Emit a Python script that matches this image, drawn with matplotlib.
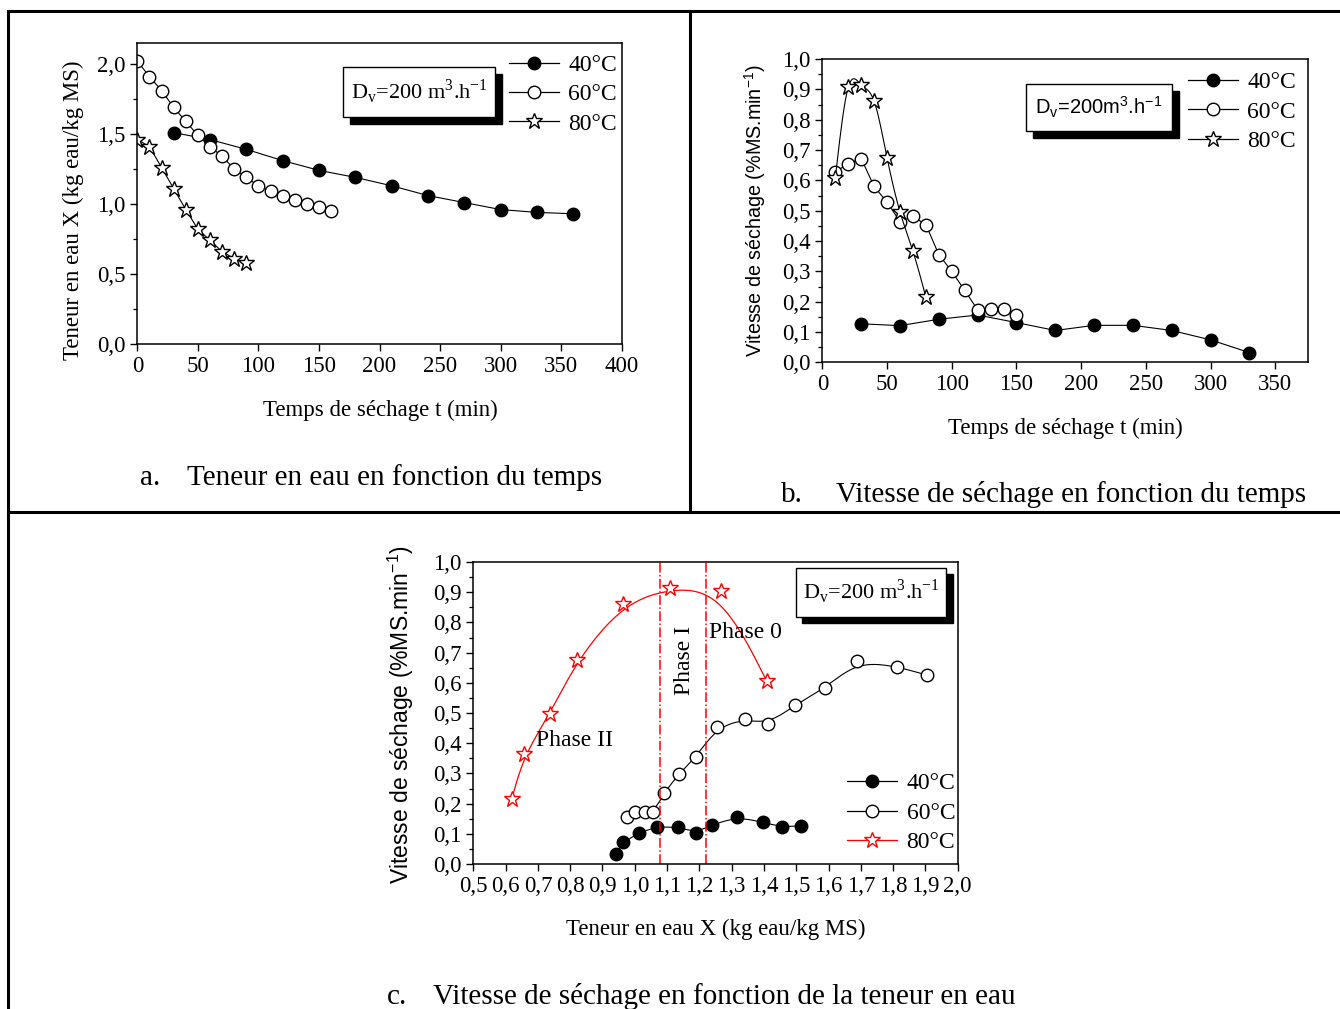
import matplotlib
matplotlib.use('Agg')
import matplotlib.pyplot as plt
import numpy as np
from matplotlib.ticker import MultipleLocator, FuncFormatter
from matplotlib.patches import Rectangle
from matplotlib.lines import Line2D

plt.rcParams['font.family'] = ['Liberation Serif', 'DejaVu Serif']
plt.rcParams['mathtext.fontset'] = 'custom'
plt.rcParams['mathtext.rm'] = 'Liberation Serif'

# --- a. Teneur en eau en fonction du temps ---
t40_a = [30, 60, 90, 120, 150, 180, 210, 240, 270, 300, 330, 360]
X40_a = [1.51, 1.46, 1.39, 1.31, 1.24, 1.19, 1.13, 1.06, 1.01, 0.96, 0.94, 0.93]
t60_a = [0, 10, 20, 30, 40, 50, 60, 70, 80, 90, 100, 110, 120, 130, 140, 150, 160]
X60_a = [2.02, 1.91, 1.81, 1.69, 1.59, 1.49, 1.41, 1.34, 1.25, 1.19, 1.13, 1.09, 1.06, 1.03, 1.00, 0.98, 0.95]
t80_a = [0, 10, 20, 30, 40, 50, 60, 70, 80, 90]
X80_a = [1.46, 1.41, 1.26, 1.11, 0.96, 0.82, 0.74, 0.66, 0.61, 0.58]

# --- b. Vitesse de sechage en fonction du temps ---
t40_b = [30, 60, 90, 120, 150, 180, 210, 240, 270, 300, 330]
v40_b = [0.127, 0.121, 0.142, 0.156, 0.131, 0.105, 0.122, 0.122, 0.105, 0.074, 0.032]
t60_b = [10, 20, 30, 40, 50, 60, 70, 80, 90, 100, 110, 120, 130, 140, 150]
v60_b = [0.628, 0.655, 0.672, 0.580, 0.528, 0.464, 0.481, 0.454, 0.355, 0.300, 0.237, 0.173, 0.175, 0.175, 0.156]
t80_b = [10, 20, 30, 40, 50, 60, 70, 80]
v80_b = [0.608, 0.907, 0.915, 0.861, 0.674, 0.496, 0.366, 0.215]

# --- c. Vitesse de sechage en fonction de la teneur en eau ---
X40_c = [0.941, 0.964, 1.014, 1.068, 1.135, 1.189, 1.239, 1.317, 1.396, 1.457, 1.516]
v40_c = [0.032, 0.073, 0.103, 0.124, 0.122, 0.104, 0.129, 0.157, 0.138, 0.122, 0.127]
X60_c = [0.977, 1.002, 1.032, 1.058, 1.090, 1.136, 1.190, 1.254, 1.342, 1.414, 1.496, 1.590, 1.689, 1.813, 1.906]
v60_c = [0.155, 0.171, 0.171, 0.171, 0.234, 0.298, 0.354, 0.453, 0.481, 0.463, 0.527, 0.582, 0.672, 0.654, 0.625]
X80_c = [0.619, 0.658, 0.738, 0.821, 0.963, 1.109, 1.267, 1.408]
v80_c = [0.215, 0.364, 0.497, 0.676, 0.862, 0.914, 0.905, 0.607]
phase_limits = [1.078, 1.221]

labels = ['40°C', '60°C', '80°C']
dv_serif = r'D$_\mathregular{v}$=200 m$^\mathregular{3}$.h$^\mathregular{-1}$'
dv_sans = r'D$_\mathregular{v}$=200m$^\mathregular{3}$.h$^\mathregular{-1}$'
ylab_v = r'Vitesse de séchage (%MS.min$^\mathregular{-1}$)'
FS = 16.5


def spline(x, y, n=300):
    # natural cubic spline through the points (line drawing only)
    x = np.asarray(x, float)
    y = np.asarray(y, float)
    m = len(x)
    h = np.diff(x)
    A = np.zeros((m, m))
    r = np.zeros(m)
    A[0, 0] = A[-1, -1] = 1
    for i in range(1, m - 1):
        A[i, i - 1] = h[i - 1]
        A[i, i] = 2 * (h[i - 1] + h[i])
        A[i, i + 1] = h[i]
        r[i] = 6 * ((y[i + 1] - y[i]) / h[i] - (y[i] - y[i - 1]) / h[i - 1])
    M = np.linalg.solve(A, r)
    xs = np.linspace(x[0], x[-1], n)
    k = np.clip(np.searchsorted(x, xs) - 1, 0, m - 2)
    a = x[k + 1] - xs
    b = xs - x[k]
    hk = h[k]
    ys = (M[k] * a ** 3 + M[k + 1] * b ** 3) / (6 * hk) + (y[k] / hk - M[k] * hk / 6) * a \
        + (y[k + 1] / hk - M[k + 1] * hk / 6) * b
    return xs, ys


def bspline(x, y, n=20):
    # cubic B-spline with the points as control points, ends clamped (like Origin's B-Spline)
    qx = np.concatenate([[x[0]] * 2, x, [x[-1]] * 2])
    qy = np.concatenate([[y[0]] * 2, y, [y[-1]] * 2])
    t = np.linspace(0, 1, n, endpoint=False)
    b0 = (1 - t) ** 3 / 6
    b1 = (3 * t ** 3 - 6 * t ** 2 + 4) / 6
    b2 = (-3 * t ** 3 + 3 * t ** 2 + 3 * t + 1) / 6
    b3 = t ** 3 / 6
    xs, ys = [], []
    for i in range(len(qx) - 3):
        xs.extend(b0 * qx[i] + b1 * qx[i + 1] + b2 * qx[i + 2] + b3 * qx[i + 3])
        ys.extend(b0 * qy[i] + b1 * qy[i + 1] + b2 * qy[i + 2] + b3 * qy[i + 3])
    xs.append(x[-1])
    ys.append(y[-1])
    return xs, ys


def style_axes(ax):
    for sp in ax.spines.values():
        sp.set_linewidth(1.1)
    ax.tick_params(which='major', direction='out', length=5, width=1.0, labelsize=FS)
    ax.tick_params(which='minor', direction='out', length=3, width=0.9)


def dv_box(ax, x0, y0, x1, y1, txt, family, size):
    dx, dy = 0.014, 0.022
    ax.add_patch(Rectangle((x0 + dx, y0 - dy), x1 - x0, y1 - y0, transform=ax.transAxes,
                           facecolor='black', edgecolor='black', zorder=5))
    ax.add_patch(Rectangle((x0, y0), x1 - x0, y1 - y0, transform=ax.transAxes,
                           facecolor='white', edgecolor='black', lw=1.0, zorder=6))
    ax.text((x0 + x1) / 2, (y0 + y1) / 2, txt, transform=ax.transAxes, ha='center', va='center',
            fontsize=size, family=family, zorder=7)


def legend(ax, colors, loc, anchor):
    mk = ['o', 'o', '*']
    fc = ['black', 'white', 'white']
    ms = [9, 9, 12]
    handles = [Line2D([], [], color=c, lw=0.9, marker=m, markersize=s, markerfacecolor=f,
                      markeredgecolor=c, markeredgewidth=1.0)
               for c, m, f, s in zip(colors, mk, fc, ms)]
    ax.legend(handles, labels, loc=loc, bbox_to_anchor=anchor, frameon=False, fontsize=17,
              handlelength=2.1, handletextpad=0.4, labelspacing=0.33, borderpad=0, borderaxespad=0)


comma1 = FuncFormatter(lambda v, p: f'{v:.1f}'.replace('.', ','))
intfmt = FuncFormatter(lambda v, p: f'{v:.0f}')

fig = plt.figure(figsize=(13.4, 10.09), dpi=100)

# frame of the table
W, H = 1340, 1009
for (x0, y0, x1, y1) in [(8, 11, 1340, 11), (8, 11, 8, 1009), (690, 11, 690, 512), (8, 512, 1340, 512)]:
    fig.add_artist(Line2D([x0 / W, x1 / W], [1 - y0 / H, 1 - y1 / H], color='black', lw=2.2))

# panel a
ax1 = fig.add_axes([0.1025, 0.6591, 0.3615, 0.2983])
style_axes(ax1)
ax1.plot(t40_a, X40_a, '-o', color='black', lw=0.8, ms=9, mfc='black', mew=1.0)
ax1.plot(t60_a, X60_a, '-o', color='black', lw=0.8, ms=9, mfc='white', mew=1.0)
ax1.plot(t80_a, X80_a, '-*', color='black', lw=0.8, ms=12, mfc='white', mew=1.0)
ax1.set_xlim(0, 400)
ax1.set_ylim(0, 2.15)
ax1.xaxis.set_major_locator(MultipleLocator(50))
ax1.yaxis.set_major_locator(MultipleLocator(0.5))
ax1.yaxis.set_minor_locator(MultipleLocator(0.25))
ax1.xaxis.set_major_formatter(intfmt)
ax1.yaxis.set_major_formatter(comma1)
ax1.set_xlabel('Temps de séchage t (min)', fontsize=FS)
ax1.set_ylabel('Teneur en eau X (kg eau/kg MS)', fontsize=FS)
ax1.xaxis.set_label_coords(0.501, -0.186)
ax1.yaxis.set_label_coords(-0.11, 0.445)
dv_box(ax1, 0.4247, 0.754, 0.7384, 0.920, dv_serif, ['Liberation Serif'], 16)
legend(ax1, ['black'] * 3, 'upper right', (0.99, 0.962))

# panel b
ax2 = fig.add_axes([0.6137, 0.6409, 0.3622, 0.3006])
style_axes(ax2)
ax2.plot(t40_b, v40_b, '-o', color='black', lw=0.8, ms=9, mfc='black', mew=1.0)
ax2.plot(t60_b, v60_b, '-o', color='black', lw=0.8, ms=9, mfc='white', mew=1.0)
sx, sy = spline(t80_b, v80_b)
ax2.plot(sx, sy, '-', color='black', lw=0.8)
ax2.plot(t80_b, v80_b, '*', color='black', ms=12, mfc='white', mew=1.0)
ax2.set_xlim(0, 375)
ax2.set_ylim(0, 1.0)
ax2.xaxis.set_major_locator(MultipleLocator(50))
ax2.yaxis.set_major_locator(MultipleLocator(0.1))
ax2.yaxis.set_minor_locator(MultipleLocator(0.05))
ax2.xaxis.set_major_formatter(intfmt)
ax2.yaxis.set_major_formatter(comma1)
ax2.set_xlabel('Temps de séchage t (min)', fontsize=FS)
ax2.set_ylabel(ylab_v, fontsize=14.2, family=['Liberation Sans'])
ax2.xaxis.set_label_coords(0.5, -0.184)
ax2.yaxis.set_label_coords(-0.112, 0.5)
dv_box(ax2, 0.4197, 0.7626, 0.7198, 0.9166, dv_sans, ['Liberation Sans'], 14.5)
legend(ax2, ['black'] * 3, 'upper right', (0.976, 0.958))

# panel c
ax3 = fig.add_axes([0.3532, 0.1437, 0.3615, 0.2993])
style_axes(ax3)
sx, sy = bspline(X40_c, v40_c)
ax3.plot(sx, sy, '-', color='black', lw=0.8)
ax3.plot(X40_c, v40_c, 'o', color='black', ms=9, mfc='black', mew=1.0)
sx, sy = bspline(X60_c, v60_c)
ax3.plot(sx, sy, '-', color='black', lw=0.8)
ax3.plot(X60_c, v60_c, 'o', color='black', ms=9, mfc='white', mew=1.0)
sx, sy = bspline(X80_c, v80_c)
ax3.plot(sx, sy, '-', color='red', lw=0.9)
ax3.plot(X80_c, v80_c, '*', color='red', ms=12, mfc='white', mew=1.0)
for xl in phase_limits:
    ax3.axvline(xl, color='red', lw=1.1, linestyle='-.')
ax3.set_xlim(0.5, 2.0)
ax3.set_ylim(0, 1.0)
ax3.xaxis.set_major_locator(MultipleLocator(0.1))
ax3.yaxis.set_major_locator(MultipleLocator(0.1))
ax3.yaxis.set_minor_locator(MultipleLocator(0.05))
ax3.xaxis.set_major_formatter(comma1)
ax3.yaxis.set_major_formatter(comma1)
ax3.set_xlabel('Teneur en eau X (kg eau/kg MS)', fontsize=FS)
ax3.set_ylabel(ylab_v, fontsize=16.5, family=['Liberation Sans'])
ax3.xaxis.set_label_coords(0.501, -0.182)
ax3.yaxis.set_label_coords(-0.118, 0.493)
ax3.text(0.815, 0.41, 'Phase II', fontsize=17, ha='center', va='center')
ax3.text(1.155, 0.675, 'Phase I', fontsize=17, ha='center', va='center', rotation=90)
ax3.text(1.344, 0.768, 'Phase 0', fontsize=17, ha='center', va='center')
dv_box(ax3, 0.6656, 0.8189, 0.9758, 0.981, dv_serif, ['Liberation Serif'], 16)
legend(ax3, ['black', 'black', 'red'], 'lower right', (0.995, 0.036))

# captions
fig.text(140 / W, 1 - 478 / H, 'a.', fontsize=21, va='center')
fig.text(187 / W, 1 - 478 / H, 'Teneur en eau en fonction du temps', fontsize=21, va='center')
fig.text(781 / W, 1 - 495 / H, 'b.', fontsize=21, va='center')
fig.text(836 / W, 1 - 495 / H, 'Vitesse de séchage en fonction du temps', fontsize=21, va='center')
fig.text(387 / W, 1 - 997 / H, 'c.', fontsize=21, va='center')
fig.text(433 / W, 1 - 997 / H, 'Vitesse de séchage en fonction de la teneur en eau', fontsize=21, va='center')

fig.savefig('out.png', dpi=100)
